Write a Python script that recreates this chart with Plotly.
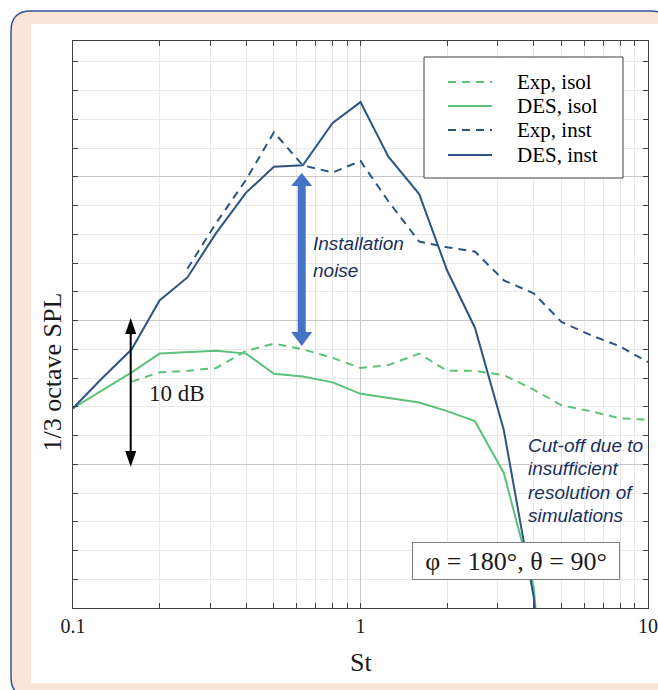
import plotly.graph_objects as go

# ---------------- data ----------------
St = [0.1, 0.125, 0.16, 0.2, 0.25, 0.315, 0.4, 0.5, 0.63, 0.8, 1,
      1.25, 1.6, 2, 2.5, 3.15, 4, 5, 6.3, 8, 10]
exp_isol = [None, None, 15.75, 16.4, 16.5, 16.7, 17.9, 18.4, 18.0, 17.4, 16.7,
            16.9, 17.7, 16.5, 16.5, 16.2, 15.2, 14.1, 13.7, 13.2, 13.1]
des_isol = [13.9, 15.1, 16.4, 17.7, 17.8, 17.9, 17.7, 16.3, 16.1, 15.7, 14.9,
            14.6, 14.3, 13.7, 13.0, 9.4, 1.5, -20, None, None, None]
exp_inst = [None, None, None, None, 23.6, 26.8, 29.8, 33.1, 30.8, 30.3, 31.1,
            28.3, 25.5, 25.1, 24.8, 22.8, 21.9, 19.9, 19.0, 18.2, 17.1]
des_inst = [13.9, 15.9, 18.0, 21.4, 23.0, 26.1, 28.9, 30.7, 30.8, 33.75, 35.2,
            31.4, 28.8, 23.5, 19.5, 12.4, 0.8, -20, None, None, None]

series_names = ["Exp, isol", "DES, isol", "Exp, inst", "DES, inst"]
x_tick_vals = [0.1, 1, 10]
x_tick_text = ["0.1", "1", "10"]
x_minor_vals = [0.2, 0.3, 0.4, 0.5, 0.6, 0.7, 0.8, 0.9, 2, 3, 4, 5, 6, 7, 8, 9]

# ---------------- styling ----------------
GREEN = "#5cc27a"
BLUE = "#2c5584"
DASH = "8px,6px"
styles = {
    "Exp, isol": dict(color=GREEN, dash=DASH),
    "DES, isol": dict(color=GREEN, dash="solid"),
    "Exp, inst": dict(color=BLUE, dash=DASH),
    "DES, inst": dict(color=BLUE, dash="solid"),
}
values = {"Exp, isol": exp_isol, "DES, isol": des_isol,
          "Exp, inst": exp_inst, "DES, inst": des_inst}

W, H = 658, 690
L, R, T, B = 73, 10, 41, 82
PW, PH = W - L - R, H - T - B


def px(x):
    return (x - L) / PW


def py(y):
    return (H - B - y) / PH


fig = go.Figure()
for name in series_names:
    st = styles[name]
    fig.add_trace(go.Scatter(
        x=St, y=values[name], mode="lines", name=name, showlegend=False,
        line=dict(color=st["color"], width=2, dash=st["dash"]),
        connectgaps=False, hoverinfo="skip",
    ))

SERIF = "Liberation Serif"
SANS = "Liberation Sans"
NAVY = "#1b2f5e"
ARROW_BLUE = "#4472c4"

shapes = []
# outer peach frame with rounded corners
x0, y0, x1, y1, r = 11, 11, 671, 697, 20
path = (f"M {px(x0 + r)},{py(y0)} L {px(x1 - r)},{py(y0)} "
        f"Q {px(x1)},{py(y0)} {px(x1)},{py(y0 + r)} "
        f"L {px(x1)},{py(y1 - r)} Q {px(x1)},{py(y1)} {px(x1 - r)},{py(y1)} "
        f"L {px(x0 + r)},{py(y1)} Q {px(x0)},{py(y1)} {px(x0)},{py(y1 - r)} "
        f"L {px(x0)},{py(y0 + r)} Q {px(x0)},{py(y0)} {px(x0 + r)},{py(y0)} Z")
shapes.append(dict(type="path", xref="paper", yref="paper", path=path,
                   fillcolor="#fbe5d6", line=dict(color="#2f5597", width=1.5),
                   layer="below"))
# white inner panel
shapes.append(dict(type="rect", xref="paper", yref="paper",
                   x0=px(31), x1=px(700), y0=py(24), y1=py(683),
                   fillcolor="white", line=dict(width=0), layer="below"))

# black double arrow (10 dB)
ax_ = 130.7
shapes.append(dict(type="line", xref="paper", yref="paper",
                   x0=px(ax_), x1=px(ax_), y0=py(330), y1=py(455),
                   line=dict(color="black", width=2)))
for tip, base in [(318, 334), (467, 451)]:
    shapes.append(dict(type="path", xref="paper", yref="paper",
                       path=f"M {px(ax_)},{py(tip)} L {px(ax_ - 5.5)},{py(base)} "
                            f"L {px(ax_ + 5.5)},{py(base)} Z",
                       fillcolor="black", line=dict(width=0)))

# blue double arrow (installation noise)
bx = 301.7
shapes.append(dict(type="rect", xref="paper", yref="paper",
                   x0=px(bx - 4), x1=px(bx + 4), y0=py(184), y1=py(334),
                   fillcolor=ARROW_BLUE, line=dict(width=0)))
for tip, base in [(173, 186), (346, 332)]:
    shapes.append(dict(type="path", xref="paper", yref="paper",
                       path=f"M {px(bx)},{py(tip)} L {px(bx - 10.5)},{py(base)} "
                            f"L {px(bx + 10.5)},{py(base)} Z",
                       fillcolor=ARROW_BLUE, line=dict(width=0)))

# legend box drawn from the series list
shapes.append(dict(type="rect", xref="paper", yref="paper",
                   x0=px(424), x1=px(623), y0=py(57), y1=py(178),
                   fillcolor="white", line=dict(color="#404040", width=1)))
annotations = []
legend_y = [82, 106, 130, 155]
for name, ly in zip(series_names, legend_y):
    st = styles[name]
    shapes.append(dict(type="line", xref="paper", yref="paper",
                       x0=px(448), x1=px(492), y0=py(ly), y1=py(ly),
                       line=dict(color=st["color"], width=2, dash=st["dash"])))
    annotations.append(dict(xref="paper", yref="paper", x=px(515), y=py(ly),
                            xanchor="left", yanchor="middle", showarrow=False,
                            text=name, font=dict(family=SERIF, size=21, color="black")))

# text annotations
annotations += [
    dict(xref="paper", yref="paper", x=px(51.5), y=py(372), textangle=-90,
         text="1/3 octave SPL", showarrow=False, xanchor="center", yanchor="middle",
         font=dict(family=SERIF, size=26, color="#1a1a1a")),
    dict(xref="paper", yref="paper", x=px(176.5), y=py(393), text="10 dB",
         showarrow=False, xanchor="center", yanchor="middle",
         font=dict(family=SERIF, size=23, color="#1a1a1a")),
    dict(xref="paper", yref="paper", x=px(516), y=py(561),
         text="φ = 180°, θ = 90°", showarrow=False, xanchor="center", yanchor="middle",
         width=204, height=34, bgcolor="white", bordercolor="#7f7f7f",
         borderwidth=1, borderpad=1,
         font=dict(family=SERIF, size=26, color="#1a1a1a")),
    dict(xref="paper", yref="paper", x=px(360.5), y=py(662), text="St",
         showarrow=False, xanchor="center", yanchor="middle",
         font=dict(family=SERIF, size=26, color="#1a1a1a")),
]
for txt, yy in [("Installation", 243), ("noise", 270)]:
    annotations.append(dict(xref="paper", yref="paper", x=px(311), y=py(yy),
                            text=f"<i>{txt}</i>", showarrow=False,
                            xanchor="left", yanchor="middle",
                            font=dict(family=SANS, size=19, color=NAVY)))
for txt, yy in [("Cut-off due to", 445), ("insufficient", 468),
                ("resolution of", 492), ("simulations", 515)]:
    annotations.append(dict(xref="paper", yref="paper", x=px(526), y=py(yy),
                            text=f"<i>{txt}</i>", showarrow=False,
                            xanchor="left", yanchor="middle",
                            font=dict(family=SANS, size=19, color=NAVY)))

AXC = "#404040"
fig.update_layout(
    width=W, height=H, autosize=False,
    margin=dict(l=L, r=R, t=T, b=B, pad=0, autoexpand=False),
    paper_bgcolor="white", plot_bgcolor="white",
    showlegend=False, hovermode=False,
    shapes=shapes, annotations=annotations,
    xaxis=dict(
        type="log", range=[-1, 1], automargin=False,
        tickmode="array", tickvals=x_tick_vals, ticktext=x_tick_text,
        ticks="inside", ticklen=5, tickcolor=AXC,
        showline=True, linecolor=AXC, linewidth=1, mirror="ticks",
        showgrid=True, gridcolor="#c8c8c8", gridwidth=1,
        zeroline=False,
        tickfont=dict(family=SERIF, size=20, color="#1a1a1a"),
        minor=dict(tickmode="array", tickvals=x_minor_vals, ticks="inside",
                   ticklen=5, tickcolor=AXC, showgrid=True, gridcolor="#e8e8e8"),
    ),
    yaxis=dict(
        range=[0, 39.45], dtick=10, tick0=0, automargin=False,
        ticks="inside", ticklen=5, tickcolor=AXC, showticklabels=False,
        showline=True, linecolor=AXC, linewidth=1, mirror="ticks",
        showgrid=True, gridcolor="#c8c8c8", gridwidth=1, zeroline=False,
        minor=dict(dtick=2, ticks="inside", ticklen=5, tickcolor=AXC,
                   showgrid=True, gridcolor="#e8e8e8"),
    ),
)

fig.write_html("out.html",
               config=dict(displayModeBar=False),
               post_script="document.body.style.margin='0px';"
                           "document.body.style.overflow='hidden';")
